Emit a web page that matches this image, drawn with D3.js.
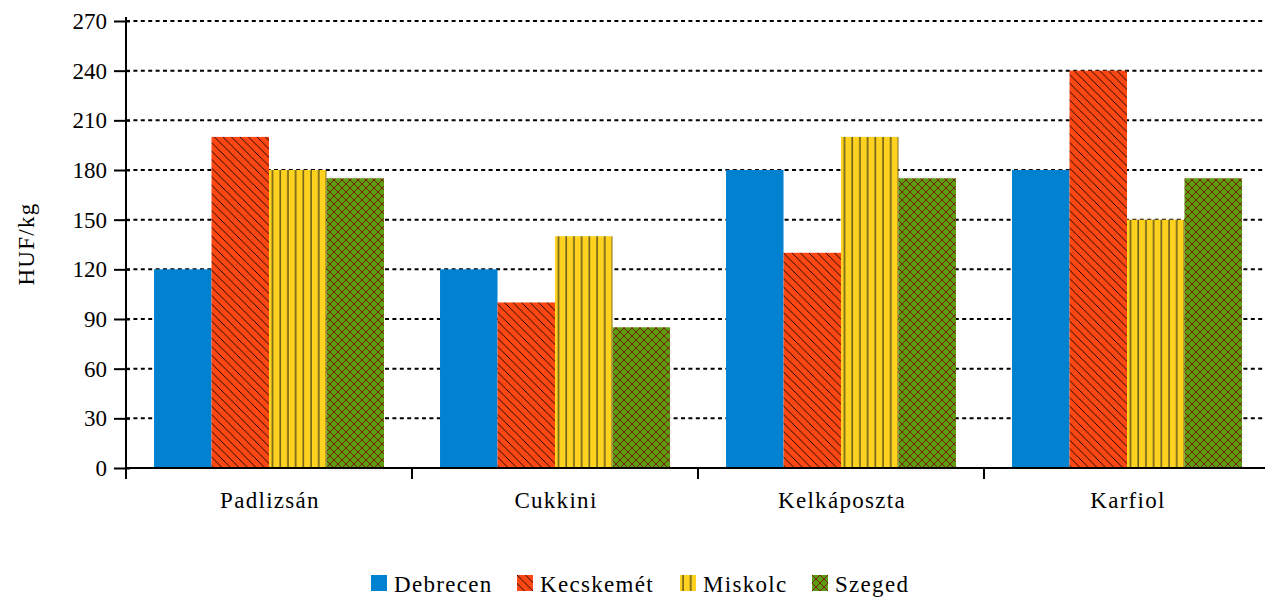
<!DOCTYPE html>
<html lang="hu">
<head>
    <meta charset="UTF-8">
    <title>zoldseg-arak</title>
    <script src="https://cdn.jsdelivr.net/npm/d3@7/dist/d3.min.js"></script>
    <style>
        body { margin: 0; background: #fff; }
        text { font-family: "Liberation Serif", "Times New Roman", serif; fill: #000; }
        .lbl { letter-spacing: 1.3px; }
    </style>
</head>
<body>
<svg id="chart"></svg>
<script>
    // adatok
    var categories = ['Padlizsán', 'Cukkini', 'Kelkáposzta', 'Karfiol'];
    var cities = ['Debrecen', 'Kecskemét', 'Miskolc', 'Szeged'];
    var debrecen = [120, 120, 180, 180];
    var kecskemet = [200, 100, 130, 240];
    var miskolc = [180, 140, 200, 150];
    var szeged = [175, 85, 175, 175];
    var yTicks = [0, 30, 60, 90, 120, 150, 180, 210, 240, 270];

    var seriesValues = [debrecen, kecskemet, miskolc, szeged];

    var width = 1265, height = 598;
    var margin = {left: 126, right: -5, top: 21, bottom: 130};

    var svg = d3.select('#chart').attr('width', width).attr('height', height);
    var defs = svg.append('defs');

    // mintazatok
    var p1 = defs.append('pattern').attr('id', 'pat-kecs')
        .attr('patternUnits', 'userSpaceOnUse').attr('width', 8.5).attr('height', 8.5);
    p1.append('rect').attr('width', 8.5).attr('height', 8.5).attr('fill', '#ff4713');
    p1.append('path').attr('d', 'M-2,-2 L10.5,10.5 M-2,6.5 L2,10.5 M6.5,-2 L10.5,2')
        .attr('stroke', '#000').attr('stroke-width', 0.9);

    var p2 = defs.append('pattern').attr('id', 'pat-misk')
        .attr('patternUnits', 'userSpaceOnUse').attr('width', 7.7).attr('height', 8);
    p2.append('rect').attr('width', 7.7).attr('height', 8).attr('fill', '#ffd21f');
    p2.append('path').attr('d', 'M3,0 L3,8').attr('stroke', '#2a2a1a').attr('stroke-width', 1.1);

    var p3 = defs.append('pattern').attr('id', 'pat-szeg')
        .attr('patternUnits', 'userSpaceOnUse').attr('width', 8).attr('height', 8);
    p3.append('rect').attr('width', 8).attr('height', 8).attr('fill', '#5c9e12');
    p3.append('path').attr('d', 'M-2,-2 L10,10 M-2,6 L2,10 M6,-2 L10,2 M-2,10 L10,-2 M-2,2 L2,-2 M6,10 L10,6')
        .attr('stroke', '#7a1005').attr('stroke-width', 0.9);

    var fills = ['#0082d0', 'url(#pat-kecs)', 'url(#pat-misk)', 'url(#pat-szeg)'];

    var x0 = d3.scaleBand().domain(categories)
        .range([margin.left, width - margin.right]).paddingInner(0.196).paddingOuter(0.098);
    var x1 = d3.scaleBand().domain(cities).range([0, x0.bandwidth()]);
    var y = d3.scaleLinear().domain([0, 270]).range([height - margin.bottom, margin.top]);

    // racsvonalak
    svg.append('g').selectAll('line').data(yTicks.slice(1)).enter().append('line')
        .attr('x1', margin.left).attr('x2', width)
        .attr('y1', function (d) { return y(d); }).attr('y2', function (d) { return y(d); })
        .attr('stroke', '#000').attr('stroke-width', 2).attr('stroke-dasharray', '4,3.4');

    // oszlopok
    var groups = svg.append('g').selectAll('g').data(categories).enter().append('g')
        .attr('transform', function (d) { return 'translate(' + x0(d) + ',0)'; });

    groups.selectAll('rect')
        .data(function (d, i) {
            return cities.map(function (c, j) { return {city: c, value: seriesValues[j][i], idx: j}; });
        })
        .enter().append('rect')
        .attr('x', function (d) { return x1(d.city); })
        .attr('width', x1.bandwidth())
        .attr('y', function (d) { return y(d.value); })
        .attr('height', function (d) { return y(0) - y(d.value); })
        .attr('fill', function (d) { return fills[d.idx]; });

    // tengelyek
    var yAxis = svg.append('g').attr('transform', 'translate(' + margin.left + ',0)')
        .call(d3.axisLeft(y).tickValues(yTicks).tickSize(12).tickSizeOuter(0).tickPadding(7));
    yAxis.select('.domain').remove();
    yAxis.selectAll('.tick line').attr('x2', -12).attr('x1', 4).attr('stroke-width', 2);
    yAxis.selectAll('text').style('font-size', '23px').attr('font-family', null);
    yAxis.append('line').attr('x1', 0).attr('x2', 0).attr('y1', margin.top - 4).attr('y2', y(0) + 11)
        .attr('stroke', '#000').attr('stroke-width', 2);

    svg.append('line').attr('x1', margin.left).attr('x2', width)
        .attr('y1', y(0)).attr('y2', y(0)).attr('stroke', '#000').attr('stroke-width', 2);

    var bounds = [margin.left].concat(categories.map(function (c) { return x0(c) - x0.step() * x0.paddingInner() / 2 + x0.step(); }));
    svg.append('g').selectAll('line').data(bounds).enter().append('line')
        .attr('x1', function (d) { return d; }).attr('x2', function (d) { return d; })
        .attr('y1', y(0)).attr('y2', y(0) + 11).attr('stroke', '#000').attr('stroke-width', 2);

    svg.append('g').selectAll('text').data(categories).enter().append('text')
        .attr('class', 'lbl')
        .attr('x', function (d) { return x0(d) + x0.bandwidth() / 2 + 1; })
        .attr('y', 508).attr('text-anchor', 'middle').style('font-size', '23px')
        .text(function (d) { return d; });

    svg.append('text').attr('class', 'lbl').attr('transform', 'translate(34,' + 244 + ') rotate(-90)')
        .attr('text-anchor', 'middle').style('font-size', '23px').text('HUF/kg');

    // jelmagyarazat
    var legendX = [371, 517, 680, 812];
    var legend = svg.append('g').selectAll('g').data(cities).enter().append('g')
        .attr('transform', function (d, i) { return 'translate(' + legendX[i] + ',575)'; });
    legend.append('rect').attr('width', 16).attr('height', 16)
        .attr('fill', function (d, i) { return fills[i]; });
    legend.append('text').attr('class', 'lbl').attr('x', 23).attr('y', 17).style('font-size', '23px')
        .text(function (d) { return d; });
</script>
</body>
</html>
